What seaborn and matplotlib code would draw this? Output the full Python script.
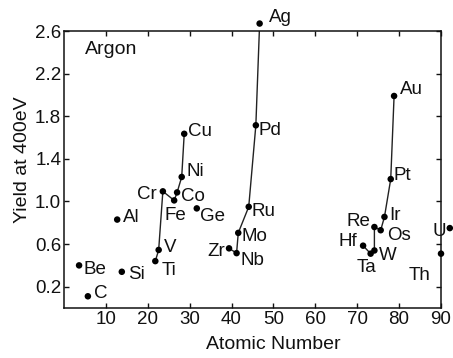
import matplotlib
matplotlib.use("Agg")
import matplotlib.pyplot as plt
import seaborn as sns
import pandas as pd

# ---- data ----
elements = ["Be", "C", "Al", "Si", "Ti", "V", "Cr", "Fe", "Co", "Ni", "Cu", "Ge",
            "Zr", "Nb", "Mo", "Ru", "Pd", "Ag",
            "Hf", "Ta", "W", "Re", "Os", "Ir", "Pt", "Au", "Th", "U"]
atomic_number = [3.6, 5.7, 12.7, 13.8, 21.8, 22.6, 23.6, 26.3, 27.0, 28.1, 28.7, 31.7,
                 39.4, 41.2, 41.6, 44.1, 45.8, 46.7,
                 71.4, 73.2, 74.1, 74.1, 75.6, 76.5, 78.0, 78.8, 90.0, 92.1]
yield_400ev = [0.40, 0.11, 0.83, 0.34, 0.44, 0.545, 1.095, 1.01, 1.085, 1.23, 1.635, 0.935,
               0.56, 0.515, 0.705, 0.95, 1.715, 2.67,
               0.585, 0.51, 0.54, 0.76, 0.73, 0.855, 1.21, 1.99, 0.51, 0.75]
series = ["", "", "", "", "3d", "3d", "3d", "3d", "3d", "3d", "3d", "",
          "4d", "4d", "4d", "4d", "4d", "4d",
          "5d", "5d", "5d", "5d", "5d", "5d", "5d", "5d", "", ""]
x_ticks = [10, 20, 30, 40, 50, 60, 70, 80, 90]
y_ticks = [0.2, 0.6, 1.0, 1.4, 1.8, 2.2, 2.6]

# ---- layout: label offsets in pixels (dx, dy) and alignment ----
label_pos = {
    "Be": (4, -4, "left"), "C": (6, 3, "left"), "Al": (6, 2, "left"), "Si": (6, -3, "left"),
    "Ti": (6, -9, "left"), "V": (5, 2, "left"), "Cr": (-6, -3, "right"), "Fe": (1, -15, "center"),
    "Co": (4, -4, "left"), "Ni": (5, 5, "left"), "Cu": (4, 2, "left"), "Ge": (3, -8, "left"),
    "Zr": (-4, -3, "right"), "Nb": (4, -7, "left"), "Mo": (3, -4, "left"), "Ru": (3, -5, "left"),
    "Pd": (3, -5, "left"), "Ag": (9, 6, "left"), "Hf": (-6, 4, "right"), "Ta": (-4, -14, "center"),
    "W": (5, -5, "left"), "Re": (-4, 6, "right"), "Os": (6, -5, "left"), "Ir": (5, 1, "left"),
    "Pt": (3, 4, "left"), "Au": (6, 6, "left"), "Th": (-11, -22, "right"), "U": (-4, -3, "right"),
}

df = pd.DataFrame({"element": elements, "Z": atomic_number, "yield": yield_400ev, "series": series})

sns.set_style("ticks")
plt.rcParams["font.family"] = ["Liberation Sans", "DejaVu Sans"]

fig = plt.figure(figsize=(4.53, 3.58), dpi=100)
ax = fig.add_axes([64 / 453, 1 - 308 / 358, 377 / 453, 277 / 358])

lines = df[df["series"] != ""]
sns.lineplot(data=lines, x="Z", y="yield", units="series", estimator=None, sort=False,
             color="#222222", linewidth=1.0, ax=ax, legend=False)
sns.scatterplot(data=df, x="Z", y="yield", color="black", s=22, edgecolor="none",
                ax=ax, legend=False, zorder=3)
for coll in ax.collections:
    coll.set_clip_on(False)

for el, z, y in zip(elements, atomic_number, yield_400ev):
    dx, dy, ha = label_pos[el]
    ax.annotate(el, (z, y), xytext=(dx * 0.72, dy * 0.72), textcoords="offset points",
                ha=ha, va="center", fontsize=13.5, color="#111111", annotation_clip=False)

ax.text(0.056, 0.935, "Argon", transform=ax.transAxes, fontsize=14, color="#111111",
        ha="left", va="center")

ax.set_xlim(0, 90)
ax.set_ylim(0, 2.6)
ax.set_xticks(x_ticks)
ax.set_yticks(y_ticks)
ax.set_xticklabels([str(t) for t in x_ticks])
ax.set_yticklabels([f"{t:.1f}" for t in y_ticks])
ax.tick_params(direction="in", top=True, right=True, length=3.5, width=1.0,
               labelsize=13.5, colors="#111111", pad=2)
for sp in ax.spines.values():
    sp.set_color("#111111")
    sp.set_linewidth(1.1)
    sp.set_visible(True)

ax.set_xlabel("Atomic Number", fontsize=14, color="#111111")
ax.set_ylabel("Yield at 400eV", fontsize=14, color="#111111")
ax.xaxis.set_label_coords(0.556, -0.102)
ax.yaxis.set_label_coords(-0.088, 0.535)
ax.set_facecolor("white")
fig.patch.set_facecolor("white")

fig.savefig("out.png", dpi=100)
